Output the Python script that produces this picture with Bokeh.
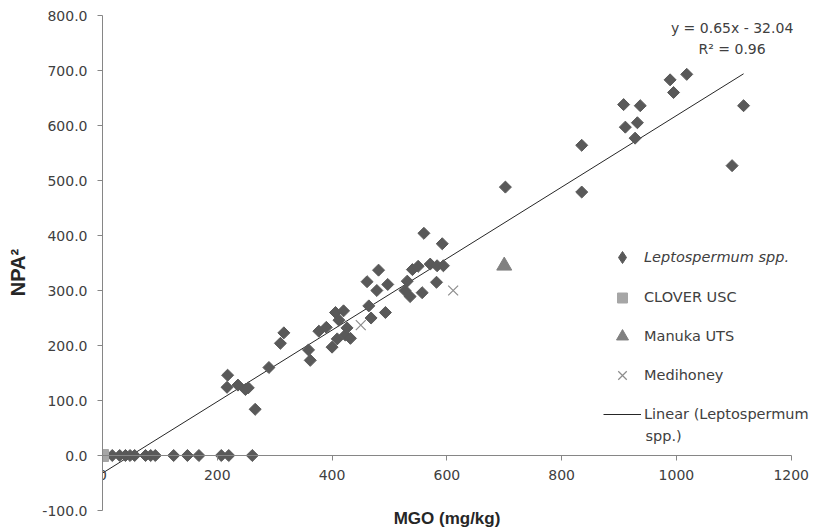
import numpy as np
from bokeh.plotting import figure
from bokeh.models import Range1d, FixedTicker, NumeralTickFormatter, Legend, LegendItem, Label
from bokeh.embed import file_html
from bokeh.resources import INLINE

# ---------------- data ----------------
lepto_x = [17, 30, 40, 48, 56, 75, 84, 92, 124, 148, 168, 207, 220, 261,
           218, 217, 236, 249, 254, 266, 290, 310, 316, 359, 362, 377, 390,
           400, 406, 409, 412, 420, 423, 426, 432,
           464, 468, 493, 461, 481, 478, 497, 531, 527, 536, 540, 550, 557,
           560, 571, 582, 583, 594, 592,
           702, 835, 835, 908, 937, 911, 932, 928, 989, 1018, 995, 1117, 1097]
lepto_y = [0, 0, 0, 0, 0, 0, 0, 0, 0, 0, 0, 0, 0, 0,
           146, 124, 128, 120, 123, 84, 160, 204, 223, 192, 173, 226, 233,
           197, 260, 212, 246, 263, 219, 232, 213,
           272, 250, 260, 316, 337, 300, 311, 317, 300, 289, 338, 344, 296,
           404, 348, 315, 345, 345, 385,
           488, 564, 479, 638, 636, 597, 605, 577, 683, 693, 660, 636, 527]
clover_x = [0]
clover_y = [0]
manuka_x = [700]
manuka_y = [345]
medi_x = [450, 611]
medi_y = [237, 300]
slope = 0.65
intercept = -32.04
x_ticks = [0, 200, 400, 600, 800, 1000, 1200]
y_ticks = [-100, 0, 100, 200, 300, 400, 500, 600, 700, 800]
x_bounds = (0, 1200)
y_bounds = (-100, 800)

fit_x = [0, max(lepto_x)]
fit_y = [slope * v + intercept for v in fit_x]

# ---------------- layout (pixels) ----------------
W, H = 816, 529
LEFT, TOP = 102, 15
PX_X = (790.7 - 102) / 1200.0     # pixels per x unit
PX_Y = (510 - 15) / 900.0         # pixels per y unit
x_end = (W - LEFT) / PX_X
y_start = 800 - (H - TOP) / PX_Y

FONT = "DejaVu Sans"
TXT = "#404040"
AX = "#868686"
LEP = "#595959"

p = figure(width=W, height=H, output_backend="svg", toolbar_location=None,
           x_range=Range1d(0, x_end), y_range=Range1d(y_start, 800),
           min_border_left=LEFT, min_border_right=0, min_border_top=TOP, min_border_bottom=0)
p.outline_line_color = None
p.xgrid.visible = False
p.ygrid.visible = False
p.background_fill_color = "white"
p.border_fill_color = "white"

# axes
p.xaxis.fixed_location = 0
p.xaxis.bounds = x_bounds
p.yaxis.bounds = y_bounds
p.xaxis.ticker = FixedTicker(ticks=x_ticks)
p.yaxis.ticker = FixedTicker(ticks=y_ticks)
p.yaxis.formatter = NumeralTickFormatter(format="0.0")
for ax in (p.xaxis, p.yaxis):
    ax.axis_line_color = AX
    ax.major_tick_line_color = AX
    ax.minor_tick_line_color = None
    ax.major_tick_in = 0
    ax.major_tick_out = 5
    ax.major_label_text_font = FONT
    ax.major_label_text_font_size = "14px"
    ax.major_label_text_color = TXT
    ax.axis_label_text_font = "Liberation Sans"
    ax.axis_label_text_font_style = "bold"
    ax.axis_label_text_color = "#262626"
p.xaxis.major_label_standoff = 9
p.yaxis.major_label_standoff = 10
p.xaxis.axis_label = "MGO (mg/kg)"
p.xaxis.axis_label_text_font_size = "17px"
p.xaxis.axis_label_standoff = 26
p.yaxis.axis_label = "NPA²"
p.yaxis.axis_label_text_font_size = "20px"
p.yaxis.axis_label_standoff = 10

# glyphs
r_fit = p.line(fit_x, fit_y, line_color="#262626", line_width=1)
# diamond-marker twin of the series, hidden under the rotated squares; used as legend key
r_lep_key = p.scatter(lepto_x, lepto_y, marker="diamond", size=7,
                      fill_color=LEP, line_color=LEP)
r_lep = p.scatter(lepto_x, lepto_y, marker="square", angle=np.pi / 4, size=8.5,
                  fill_color=LEP, line_color=LEP)
r_clo = p.scatter(clover_x, clover_y, marker="square", size=12,
                  fill_color="#a6a6a6", line_color="#a6a6a6")
r_man = p.scatter(manuka_x, manuka_y, marker="triangle", size=15,
                  fill_color="#808080", line_color="#808080")
r_med = p.scatter(medi_x, medi_y, marker="x", size=14,
                  line_color="#8c8c8c", line_width=1.2)

# equation
for txt, yy in (("y = 0.65x - 32.04", 778), ("R² = 0.96", 740)):
    p.add_layout(Label(x=1097, y=yy, text=txt, text_align="center", text_baseline="middle",
                       text_font=FONT, text_font_size="14px", text_color=TXT))

# legends (one per row, stacked; location measured from frame bottom-left)
GLYPH_LEFT = 603
rows = [
    ("Leptospermum spp.", r_lep_key, 257, 30, "italic"),
    ("CLOVER USC", r_clo, 297, 25, "normal"),
    ("Manuka UTS", r_man, 336, 30, "normal"),
    ("Medihoney", r_med, 375, 30, "normal"),
    ("Linear (Leptospermum", r_fit, 414, 20, "normal"),
]
for label, rend, cy, gh, style in rows:
    lg = Legend(items=[LegendItem(label=label, renderers=[rend])],
                location=(GLYPH_LEFT - LEFT, H - (cy + gh / 2)),
                glyph_width=38, glyph_height=gh, label_height=gh, label_standoff=3,
                padding=0, margin=0, spacing=0, border_line_color=None,
                background_fill_alpha=0, label_text_font=FONT, label_text_font_size="14.5px",
                label_text_color=TXT, label_text_font_style=style)
    p.add_layout(lg, "center")

# second line of the wrapped trend-line legend label
p.add_layout(Label(x=(645 - LEFT) / PX_X, y=(455 - 435) / PX_Y, text="spp.)",
                   text_align="left", text_baseline="middle",
                   text_font=FONT, text_font_size="14.5px", text_color=TXT))

open("out.html", "w").write(file_html(p, INLINE))
